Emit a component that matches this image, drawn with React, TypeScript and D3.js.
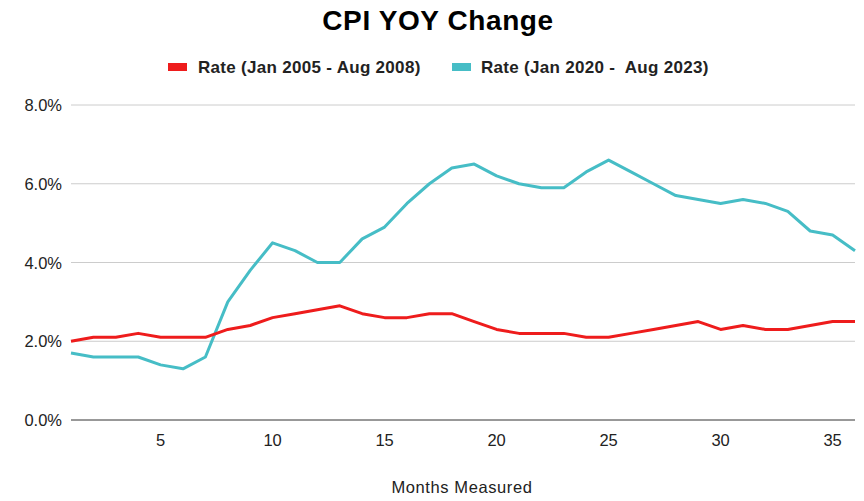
import React from "react";
import * as d3 from "d3";

const months = d3.range(1, 37);
const rate2005 = [2.0, 2.1, 2.1, 2.2, 2.1, 2.1, 2.1, 2.3, 2.4, 2.6, 2.7, 2.8, 2.9, 2.7, 2.6, 2.6, 2.7, 2.7, 2.5, 2.3, 2.2, 2.2, 2.2, 2.1, 2.1, 2.2, 2.3, 2.4, 2.5, 2.3, 2.4, 2.3, 2.3, 2.4, 2.5, 2.5];
const rate2020 = [1.7, 1.6, 1.6, 1.6, 1.4, 1.3, 1.6, 3.0, 3.8, 4.5, 4.3, 4.0, 4.0, 4.6, 4.9, 5.5, 6.0, 6.4, 6.5, 6.2, 6.0, 5.9, 5.9, 6.3, 6.6, 6.3, 6.0, 5.7, 5.6, 5.5, 5.6, 5.5, 5.3, 4.8, 4.7, 4.3];
const yTicks = [0, 2, 4, 6, 8];
const xTicks = [5, 10, 15, 20, 25, 30, 35];
const seriesNames = ["Rate (Jan 2005 - Aug 2008)", "Rate (Jan 2020 -  Aug 2023)"];
const colors = ["#ee1c1c", "#46bdc6"];

export default function App() {
  const W = 864, H = 501;
  const x = d3.scaleLinear().domain([1, 36]).range([71, 855]);
  const y = d3.scaleLinear().domain([0, 8]).range([420, 105]);
  const line = d3.line<number>().x((_, i) => x(months[i])).y(d => y(d));
  const font = "Liberation Sans, Arial, sans-serif";
  return (
    <svg width={W} height={H} style={{ position: "absolute", left: 0, top: 0, background: "#fff" }} fontFamily={font}>
      <text x={438} y={30} textAnchor="middle" fontSize={28} fontWeight="bold" letterSpacing={0.6} fill="#000">CPI YOY Change</text>
      <g>
        <rect x={168} y={63} width={19} height={8} fill={colors[0]} />
        <text x={198} y={73} fontSize={17} fontWeight="bold" letterSpacing={0.3} fill="#222">{seriesNames[0]}</text>
        <rect x={452} y={63} width={19} height={8} fill={colors[1]} />
        <text x={481} y={73} fontSize={17} fontWeight="bold" letterSpacing={0.3} fill="#222" style={{ whiteSpace: "pre" }}>{seriesNames[1]}</text>
      </g>
      {yTicks.map(t => (
        <g key={t}>
          {t !== 0 && <line x1={71} x2={855} y1={y(t)} y2={y(t)} stroke="#cccccc" strokeWidth={1} />}
          <text x={62} y={y(t) + 6} textAnchor="end" fontSize={16.5} fill="#222">{t.toFixed(1) + "%"}</text>
        </g>
      ))}
      <line x1={71} x2={855} y1={y(0)} y2={y(0)} stroke="#333" strokeWidth={1} />
      {xTicks.map(t => (
        <text key={t} x={x(t)} y={446} textAnchor="middle" fontSize={16.5} fill="#222">{t}</text>
      ))}
      <text x={462} y={493} textAnchor="middle" fontSize={16.5} letterSpacing={0.6} fill="#222">Months Measured</text>
      <path d={line(rate2020) || ""} fill="none" stroke={colors[1]} strokeWidth={3} strokeLinejoin="round" />
      <path d={line(rate2005) || ""} fill="none" stroke={colors[0]} strokeWidth={3} strokeLinejoin="round" />
    </svg>
  );
}
